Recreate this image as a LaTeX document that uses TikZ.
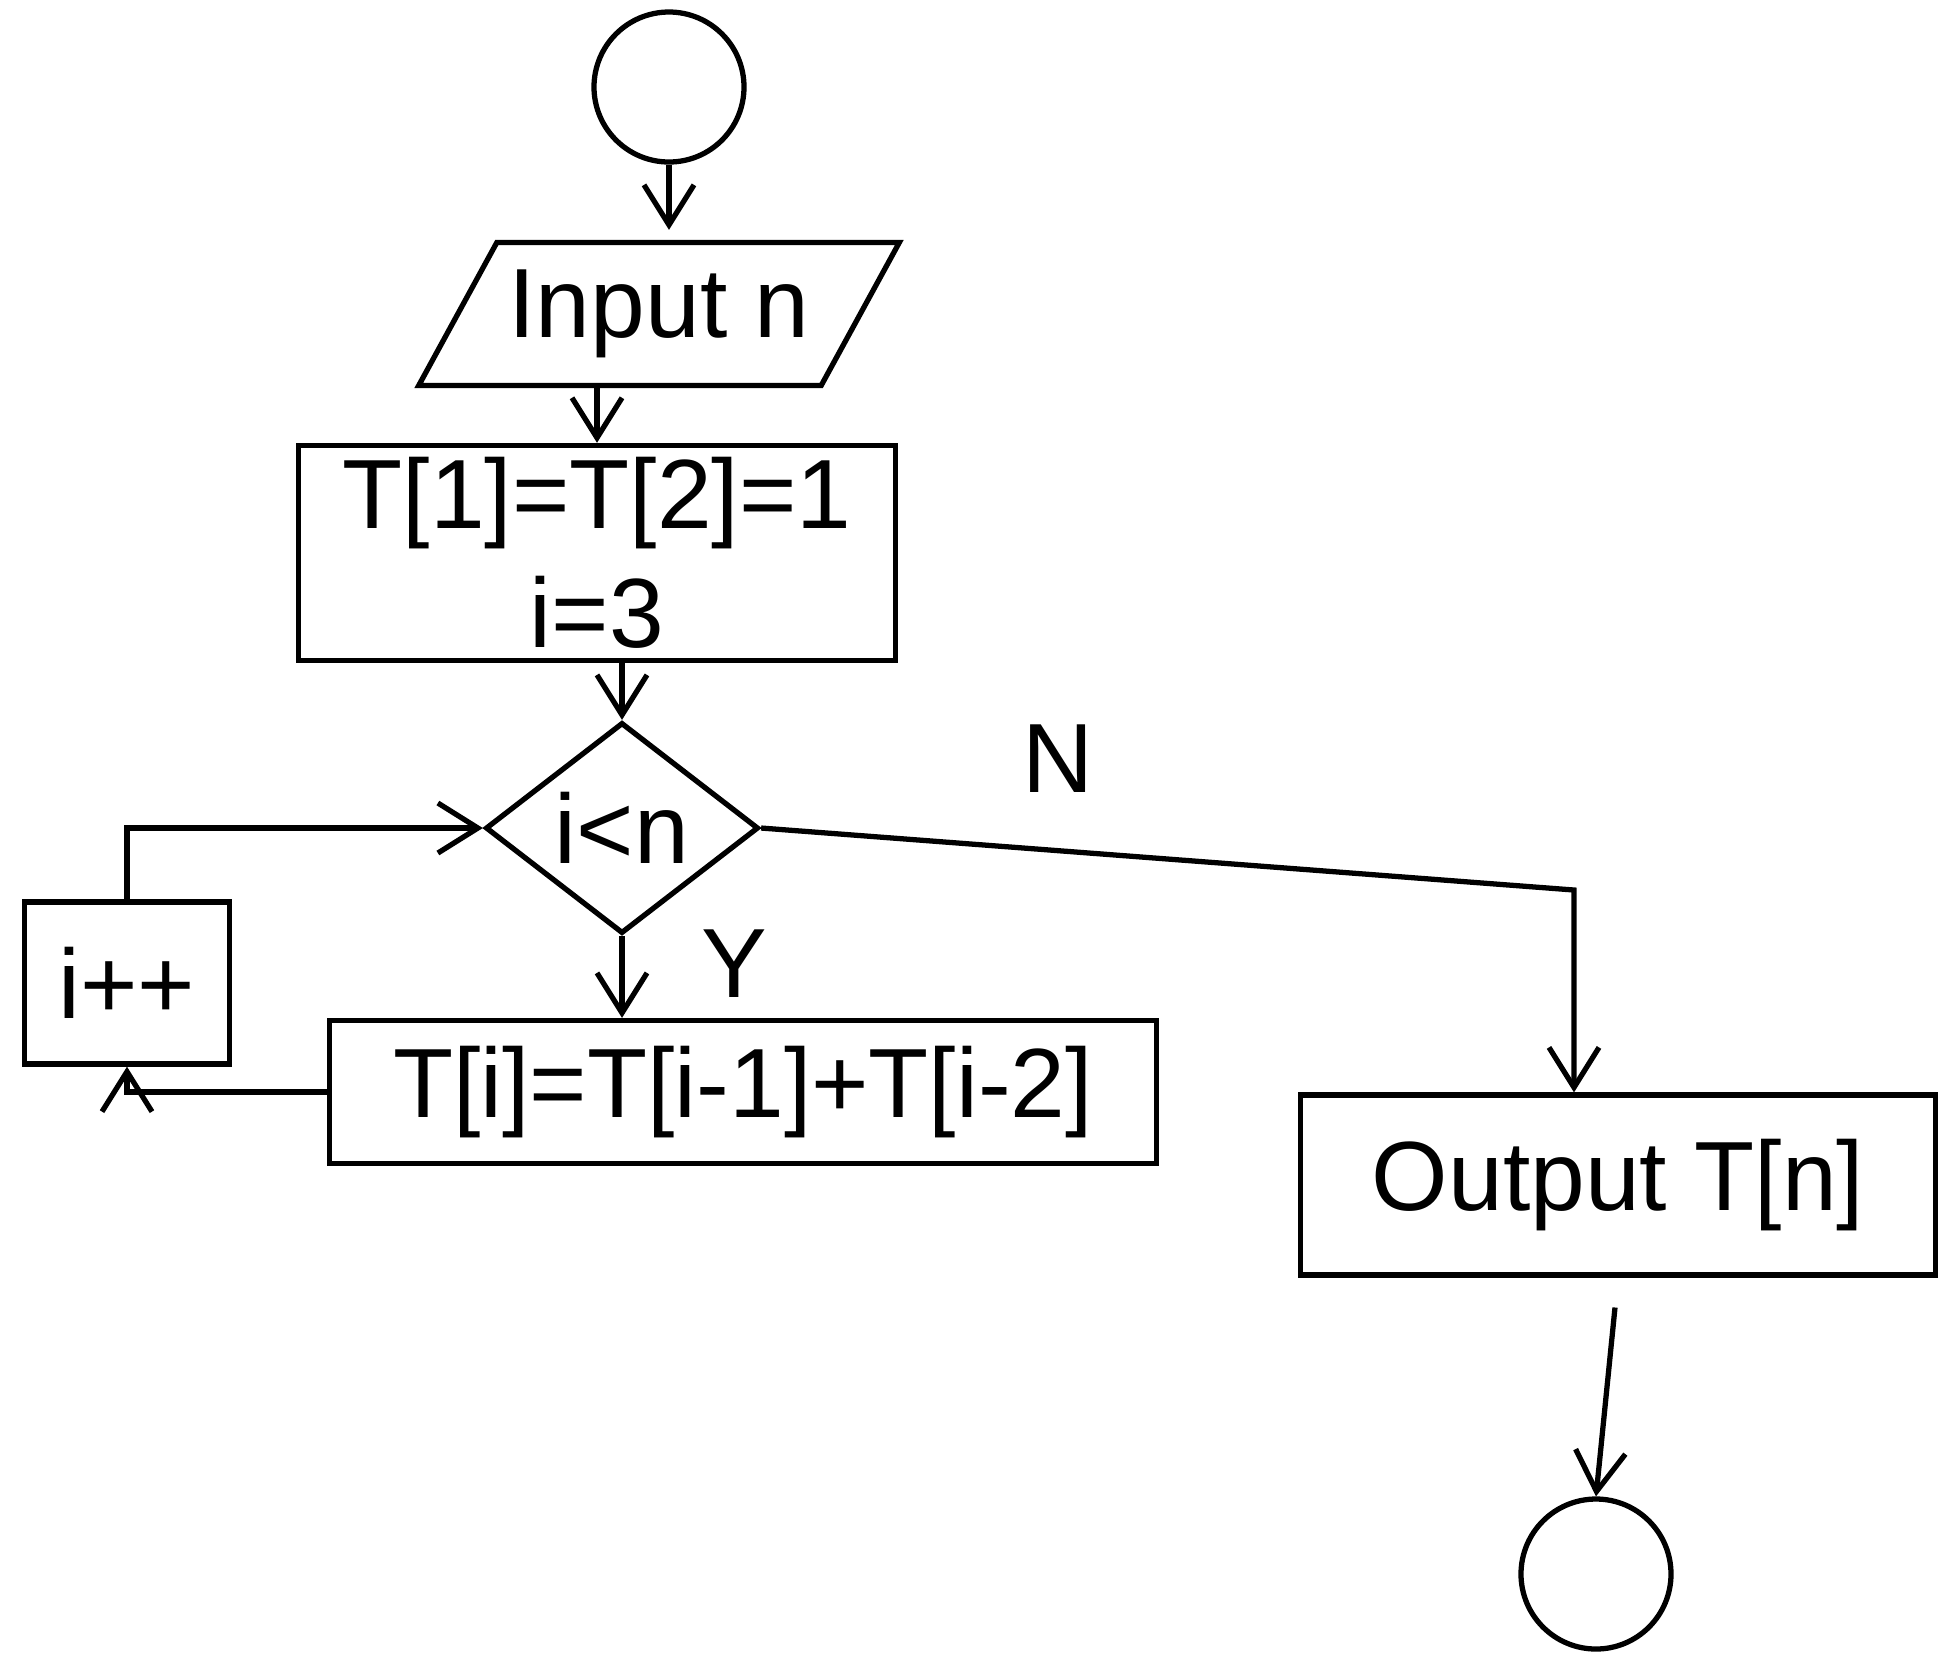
\documentclass[tikz,border=0pt]{standalone}
\usepackage{fontspec}
\setmainfont{Liberation Sans}
\usetikzlibrary{shapes.geometric,arrows.meta}

\begin{document}
\begin{tikzpicture}[line width=1.5pt,
  flow/.style={-{Straight Barb[length=4mm,width=5mm,line width=1.5pt]}},
  terminal/.style={draw, circle, minimum size=1.5cm},
  io/.style={draw, trapezium, trapezium left angle=55, trapezium right angle=125,
             trapezium stretches=true, minimum width=4.48cm, minimum height=1.43cm},
  process/.style={draw, rectangle, align=center},
  decision/.style={draw, diamond, inner sep=0pt, minimum width=2.73cm, minimum height=2.11cm},
  txt/.style={font=\fontsize{28}{34}\selectfont}]

\useasboundingbox (0,0) rectangle (19.51,-16.67);

% Blocchi
\node[terminal] (start) at (6.69,-0.87) {};
\node[io, txt] (input) at (6.59,-3.14) {Input n};
\node[process, txt, minimum width=5.97cm, minimum height=2.12cm] (init) at (5.97,-5.53)
  {T[1]=T[2]=1\\i=3};
\node[decision, txt] (check) at (6.22,-8.28) {i<n};
\node[process, txt, minimum width=8.27cm, minimum height=1.43cm] (update) at (7.43,-10.92)
  {T[i]=T[i-1]+T[i-2]};
\node[process, txt, minimum width=2.05cm, minimum height=1.62cm] (incr) at (1.27,-9.83) {i++};
\node[process, txt, minimum width=6.35cm, minimum height=1.80cm] (output) at (16.18,-11.85)
  {Output T[n]};
\node[terminal] (stop) at (15.96,-15.74) {};

% Etichette dei rami
\node[txt] (yes) at (7.34,-9.64) {Y};
\node[txt] (no) at (10.58,-7.59) {N};

% Collegamenti
\coordinate (ncorner) at (15.74,-8.90);
\draw[flow, shorten >=1mm] (start.south) -- (start.south |- input.north);
\draw[flow] (init.north |- input.south) -- (init.north);
\draw[flow] (check.north |- init.south) -- (check.north);
\draw[flow] (check.south) -- (check.south |- update.north);
\draw[flow] (check.east) -- (ncorner) -- (ncorner |- output.north);
\draw[flow] (update.west) -| (incr.south);
\draw[flow] (incr.north) |- (check.west);
\draw[flow, shorten <=3mm] (output.south) -- (stop.north);

\end{tikzpicture}
\end{document}
